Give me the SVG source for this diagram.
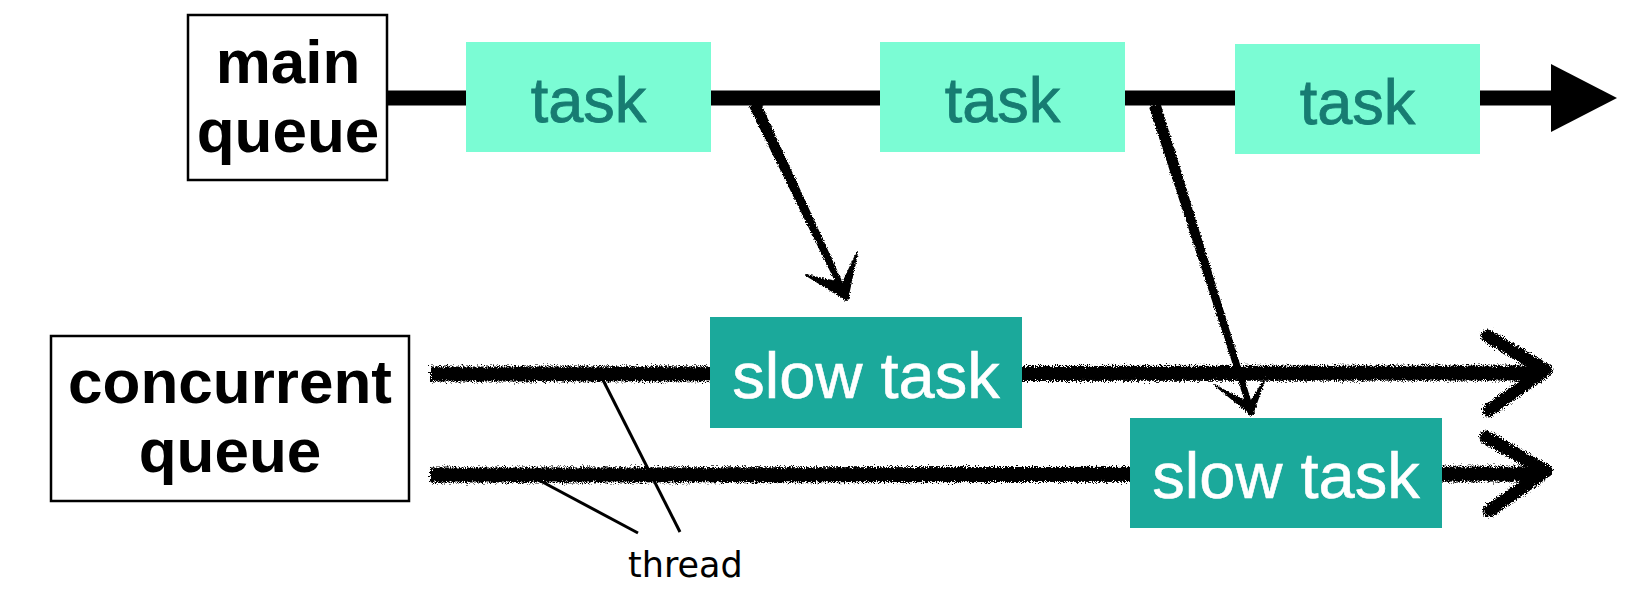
<svg xmlns="http://www.w3.org/2000/svg" width="1642" height="600" viewBox="0 0 1642 600">
<style>
.qbox{fill:#ffffff;stroke:#000000;stroke-width:2.5}
.qtxt{font-family:"Liberation Sans",Arial,sans-serif;font-weight:bold;font-size:62px;fill:#000000;text-anchor:middle}
.task{fill:#7BFCD4}
.ttxt{font-family:"Liberation Sans",Arial,sans-serif;font-size:63px;fill:#177C72;text-anchor:middle;stroke:#177C72;stroke-width:0.8}
.slow{fill:#1BA99B}
.stxt{font-family:"Liberation Sans",Arial,sans-serif;font-size:65px;fill:#ffffff;text-anchor:middle;stroke:#ffffff;stroke-width:0.6}
.thread{fill:none;stroke:#000000;stroke-width:15;stroke-linecap:butt;stroke-linejoin:round}
.chev{fill:none;stroke:#000000;stroke-width:13;stroke-linecap:round;stroke-linejoin:round}
.sketch{fill:#000000;stroke:#000000;stroke-width:2;stroke-linejoin:round}
.ptr{fill:none;stroke:#000000;stroke-width:3}
.lbl{font-family:"DejaVu Sans",sans-serif;font-size:35px;fill:#000000}
</style>
<defs>
<filter id="rough" filterUnits="userSpaceOnUse" x="0" y="0" width="1642" height="600">
<feTurbulence type="fractalNoise" baseFrequency="1.1" numOctaves="2" seed="3" result="n"/>
<feDisplacementMap in="SourceGraphic" in2="n" scale="9" xChannelSelector="R" yChannelSelector="G"/>
</filter>
<filter id="rough2" filterUnits="userSpaceOnUse" x="0" y="0" width="1642" height="600">
<feTurbulence type="fractalNoise" baseFrequency="0.9" numOctaves="2" seed="7" result="n"/>
<feDisplacementMap in="SourceGraphic" in2="n" scale="4" xChannelSelector="R" yChannelSelector="G"/>
</filter>
</defs>
<g id="connectors">
<line x1="387" y1="98" x2="1556" y2="98" stroke="#000000" stroke-width="15"/>
<polygon points="1551,64 1617,98 1551,132" fill="#000000"/>
<g filter="url(#rough)">
<line class="thread" x1="430" y1="374" x2="1540" y2="373"/>
<polyline class="chev" points="1487,336 1546,370 1489,410"/>
<line class="thread" x1="430" y1="475" x2="1540" y2="474"/>
<polyline class="chev" points="1486,437 1546,471 1489,511"/>
</g>
<g filter="url(#rough2)">
<polygon class="sketch" points="759.5,102.9 848.8,298.1 845.2,299.9 750.5,107.1"/>
<polygon class="sketch" points="806,275 847,300 857,253 843,283 822,279"/>
<polygon class="sketch" points="1159.8,104.5 1253.9,413.4 1250.1,414.6 1150.2,107.5"/>
<polygon class="sketch" points="1215,385 1252,415 1264,381 1250,403 1230,394"/>
</g>
<line class="ptr" x1="602" y1="378" x2="680" y2="532"/>
<line class="ptr" x1="535" y1="478" x2="638" y2="533"/>
</g>
<g id="main-queue">
<rect class="qbox" x="188" y="15" width="199" height="165"/>
<text class="qtxt" x="288" y="83">main</text>
<text class="qtxt" x="288" y="152">queue</text>
</g>
<g id="task-1">
<rect class="task" x="466" y="42" width="245" height="110"/>
<text class="ttxt" x="588.5" y="121.5">task</text>
</g>
<g id="task-2">
<rect class="task" x="880" y="42" width="245" height="110"/>
<text class="ttxt" x="1002.5" y="121.5">task</text>
</g>
<g id="task-3">
<rect class="task" x="1235" y="44" width="245" height="110"/>
<text class="ttxt" x="1357.5" y="123.5">task</text>
</g>
<g id="concurrent-queue">
<rect class="qbox" x="51" y="336" width="358" height="165"/>
<text class="qtxt" x="230" y="403">concurrent</text>
<text class="qtxt" x="230" y="472">queue</text>
</g>
<g id="slow-task-1">
<rect class="slow" x="710" y="317" width="312" height="111"/>
<text class="stxt" x="866" y="397.5">slow task</text>
</g>
<g id="slow-task-2">
<rect class="slow" x="1130" y="418" width="312" height="110"/>
<text class="stxt" x="1286" y="498">slow task</text>
</g>
<g id="thread-label">
<text class="lbl" x="628" y="577">thread</text>
</g>
</svg>
